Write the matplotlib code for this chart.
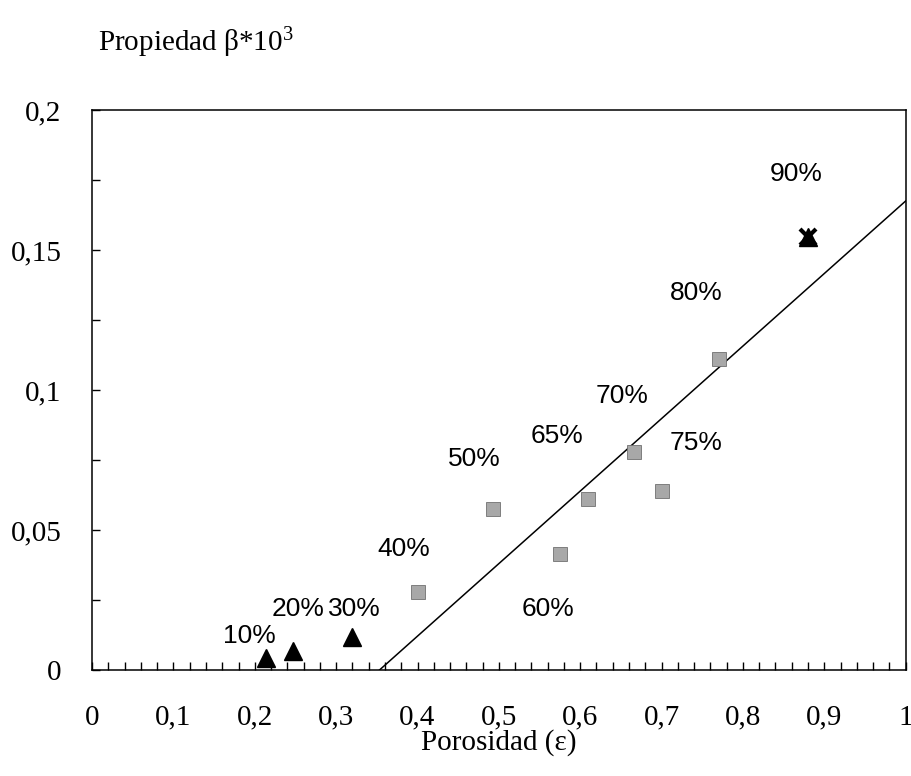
import matplotlib

matplotlib.use("Agg")
import matplotlib.pyplot as plt  # noqa: E402
from matplotlib.ticker import FuncFormatter, MultipleLocator  # noqa: E402

# porosity / property pairs, one per foam density
labels = ["10%", "20%", "30%", "40%", "50%", "60%", "65%", "70%", "75%", "80%", "90%"]
porosity = [0.214, 0.247, 0.319, 0.400, 0.493, 0.575, 0.609, 0.666, 0.700, 0.771, 0.880]
beta = [0.0043, 0.0068, 0.0118, 0.0279, 0.0575, 0.0414, 0.0612, 0.0779, 0.0640, 0.1110, 0.1545]
kind = ["tri", "tri", "tri", "grey", "grey", "grey", "grey", "grey", "grey", "grey", "star"]

# label anchor (data coords)
label_x = [0.193, 0.253, 0.322, 0.383, 0.470, 0.560, 0.571, 0.652, 0.742, 0.743, 0.865]
label_y = [0.0121, 0.0218, 0.0218, 0.0432, 0.0754, 0.0218, 0.0836, 0.0979, 0.0811, 0.1346, 0.1771]

# linear fit
fit_slope = 0.259
fit_intercept = -0.0915

plt.rcParams["mathtext.fontset"] = "custom"
plt.rcParams["mathtext.rm"] = "Liberation Serif"
plt.rcParams["mathtext.it"] = "Liberation Serif:italic"

fig = plt.figure(figsize=(9.12, 7.76), dpi=100)
ax = fig.add_axes([0.101, 0.1366, 0.892, 0.7216])

serif = "Liberation Serif"
sans = "Liberation Sans"

x0 = -fit_intercept / fit_slope
ax.plot([x0, 1.0], [0.0, fit_slope * 1.0 + fit_intercept], color="black", lw=1.1)

for x, y, k in zip(porosity, beta, kind):
    if k == "tri":
        ax.plot(x, y, marker="^", ms=13, color="black", ls="none")
    elif k == "grey":
        ax.plot(x, y, marker="s", ms=10, color="#a8a8a8", mec="#707070", mew=0.6, ls="none")
    else:
        ax.plot(x, y, marker="^", ms=13, color="black", ls="none")
        ax.plot(x, y, marker="x", ms=11, mew=3, color="black", ls="none")

for t, x, y in zip(labels, label_x, label_y):
    ax.text(x, y, t, fontsize=19, family=sans, ha="center", va="center")

ax.set_xlim(0, 1)
ax.set_ylim(0, 0.2)
ax.xaxis.set_major_locator(MultipleLocator(0.1))
ax.xaxis.set_minor_locator(MultipleLocator(0.02))
ax.yaxis.set_major_locator(MultipleLocator(0.05))
ax.yaxis.set_minor_locator(MultipleLocator(0.025))

fmt = FuncFormatter(lambda v, p: ("%g" % round(v, 3)).replace(".", ","))
ax.xaxis.set_major_formatter(fmt)
ax.yaxis.set_major_formatter(fmt)

ax.tick_params(which="both", direction="in", top=False, right=False, length=6, width=1)
ax.tick_params(axis="x", which="major", pad=25)
ax.tick_params(axis="y", which="major", pad=22)
for lab in ax.get_xticklabels() + ax.get_yticklabels():
    lab.set_fontfamily(serif)
    lab.set_fontsize(21)
for s in ax.spines.values():
    s.set_linewidth(1.1)

ax.set_xlabel("Porosidad (ε)", fontsize=21, family=serif, labelpad=-1)
fig.text(0.108, 0.945, "Propiedad β*10$^{3}$", fontsize=21, family=serif, va="center")

fig.savefig("out.png", dpi=100)
